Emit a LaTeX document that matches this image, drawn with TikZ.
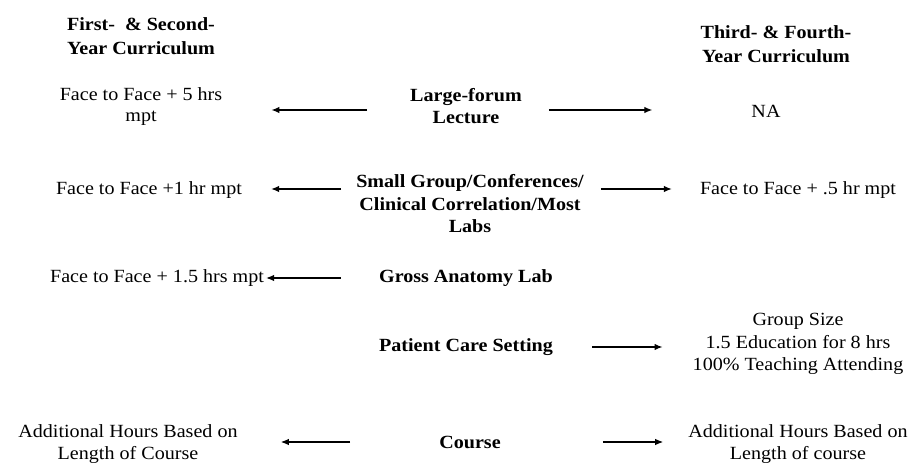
\documentclass[tikz,border=0pt]{standalone}
\usepackage{fontspec}
\setmainfont{Liberation Serif}[FakeStretch=1.08]
\usetikzlibrary{arrows.meta}

\begin{document}
\begin{tikzpicture}[x=1pt,y=-1pt,>={Latex[length=8pt,width=6.5pt]},
  every node/.style={inner sep=0pt,align=center,
    font=\fontsize{18.6}{22.5}\selectfont},
  head/.style={font=\fontsize{18.6}{24.5}\selectfont\bfseries},
  setting/.style={font=\fontsize{18.6}{22.5}\selectfont\bfseries},
  link/.style={->,line width=1.2pt}]
  \useasboundingbox (0,0) rectangle (911,465);

  % column heads
  \node[head] (headL) at (141,36) {First-\ \ \& Second-\\Year Curriculum};
  \node[head] (headR) at (776,44) {Third- \& Fourth-\\Year Curriculum};

  % teaching settings
  \node[setting] (lec) at (466,106) {Large-forum\\Lecture};
  \node[setting] (small) at (470,204)
    {Small Group/Conferences/\\Clinical Correlation/Most\\Labs};
  \node[setting] (gross) at (466,278) {Gross Anatomy Lab};
  \node[setting] (care) at (466,347) {Patient Care Setting};
  \node[setting] (course) at (470,442) {Course};

  % first and second year
  \node[font=\fontsize{18.6}{21}\selectfont] (lecL) at (141,107)
    {Face to Face + 5 hrs\\mpt};
  \node (smallL) at (149,190) {Face to Face +1 hr mpt};
  \node (grossL) at (157,278) {Face to Face + 1.5 hrs mpt};
  \node (courseL) at (128,444) {Additional Hours Based on\\Length of Course};

  % third and fourth year
  \node (lecR) at (766,111) {NA};
  \node (smallR) at (798,190) {Face to Face + .5 hr mpt};
  \node (careR) at (798,344)
    {Group Size\\1.5 Education for 8 hrs\\100\% Teaching Attending};
  \node (courseR) at (798,444) {Additional Hours Based on\\Length of course};

  \draw[link,shorten <=43pt,shorten >=49pt]
    ([yshift=-4pt]lec.west) -- ([yshift=-4pt]lecL.east |- lec.west);
  \draw[link,shorten <=27pt,shorten >=99pt]
    ([yshift=-4pt]lec.east) -- ([yshift=-4pt]lecR.west |- lec.east);
  \draw[link,shorten <=15pt,shorten >=29pt]
    ([yshift=15pt]small.west) -- ([yshift=15pt]smallL.east |- small.west);
  \draw[link,shorten <=17pt,shorten >=28pt]
    ([yshift=15pt]small.east) -- ([yshift=15pt]smallR.west |- small.east);
  \draw[link,shorten <=38pt,shorten >=2pt]
    (gross.west) -- (gross.west -| grossL.east);
  \draw[link,shorten <=39pt,shorten >=30pt]
    (care.east) -- (care.east -| careR.west);
  \draw[link,shorten <=89pt,shorten >=43pt]
    (course.west) -- (course.west -| courseL.east);
  \draw[link,shorten <=102pt,shorten >=25pt]
    (course.east) -- (course.east -| courseR.west);
\end{tikzpicture}
\end{document}
